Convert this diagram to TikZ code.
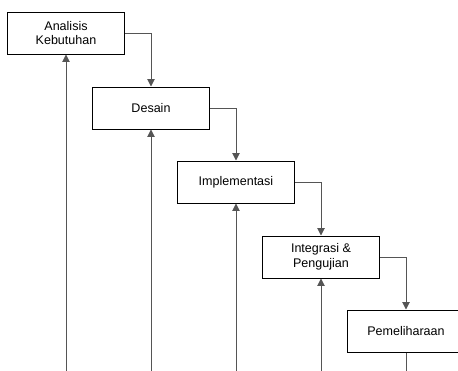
\documentclass[tikz,border=0pt]{standalone}
\usepackage{fontspec}
\setmainfont{Liberation Sans}
\usetikzlibrary{arrows.meta}

\definecolor{linegray}{RGB}{85,85,85}

\begin{document}
\begin{tikzpicture}[x=0.75pt, y=-0.75pt,
        phase/.style={draw=black, line width=0.75pt, minimum width=87.75pt, minimum height=31.5pt, inner sep=0pt, align=center, font=\fontsize{9.4}{11}\selectfont},
        flow/.style={draw=linegray, line width=0.75pt, -{Triangle[length=5.5pt,width=5.5pt]}}]
        % Fix the page size and cut the last box at the edge
        \useasboundingbox (0,0) rectangle (458,371);
        \clip (0,0) rectangle (458,371);

        % The phases, stepping down to the right
        \node[phase] (analisis) at (66,33) {Analisis\\Kebutuhan};
        \node[phase] (desain) at (151,108) {Desain};
        \node[phase] (implementasi) at (236,182) {Implementasi};
        \node[phase] (integrasi) at (321,257) {Integrasi \&\\Pengujian};
        \node[phase] (pemeliharaan) at (406,331) {Pemeliharaan};

        % Free ends at the bottom edge
        \coordinate (back1) at (66,371);
        \coordinate (back2) at (151,371);
        \coordinate (back3) at (236,371);
        \coordinate (back4) at (321,371);
        \coordinate (back5) at (406,371);

        % Forward connectors
        \draw[flow] (analisis.east) -| (desain.north);
        \draw[flow] (desain.east) -| (implementasi.north);
        \draw[flow] (implementasi.east) -| (integrasi.north);
        \draw[flow] (integrasi.east) -| (pemeliharaan.north);

        % Feedback lines from below
        \draw[flow] (back1) -- (analisis.south);
        \draw[flow] (back2) -- (desain.south);
        \draw[flow] (back3) -- (implementasi.south);
        \draw[flow] (back4) -- (integrasi.south);
        \draw[linegray, line width=0.75pt] (pemeliharaan.south) -- (back5);
\end{tikzpicture}
\end{document}
